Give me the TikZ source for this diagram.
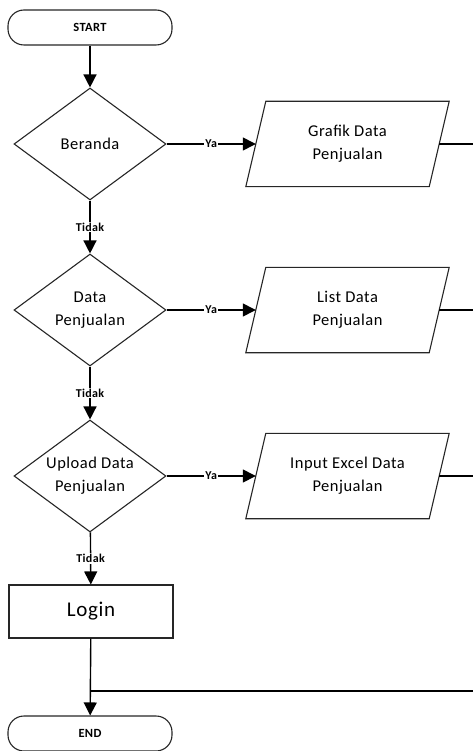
\documentclass[tikz,border=0pt]{standalone}
\usepackage{fontspec}
\setmainfont{Carlito}[LetterSpace=3]
\usetikzlibrary{shapes.geometric,arrows.meta}
\begin{document}
\begin{tikzpicture}[x=1pt,y=1pt,
  shapeline/.style={draw=black!85, line width=1.1pt, fill=white},
  term/.style={shapeline, rectangle, rounded corners=16pt, minimum width=164pt, minimum height=35pt, inner sep=0pt, font=\bfseries\fontsize{12.5}{14}\selectfont},
  decision/.style={shapeline, diamond, minimum width=152pt, minimum height=112pt, inner sep=0pt},
  iobody/.style={rectangle, minimum width=183pt, minimum height=85pt, inner sep=0pt, align=center, font=\fontsize{16.5}{23}\selectfont},
  proc/.style={shapeline, rectangle, minimum width=164pt, minimum height=53pt, inner sep=0pt, font=\fontsize{21}{24}\selectfont},
  txt/.style={align=center, font=\fontsize{16.5}{23}\selectfont},
  flow/.style={draw=black, line width=1.4pt, -{Triangle[width=13pt,length=13pt]}},
  plain/.style={draw=black, line width=1.4pt},
  lbl/.style={fill=white, inner sep=1pt, font=\bfseries\fontsize{12}{13}\selectfont}
]
\useasboundingbox (0,0) rectangle (473,-751);

\node[term] (start) at (90,-27.5) {START};
\node[decision, label={[txt]center:Beranda}] (d1) at (90,-144) {};
\node[decision, label={[txt]center:Data\\Penjualan}] (d2) at (90,-310) {};
\node[decision, label={[txt]center:Upload Data\\Penjualan}] (d3) at (90,-476) {};
\node[proc] (login) at (91,-611.5) {Login};
\node[term] (end) at (90,-733.5) {END};

\node[iobody] (p1) at (347.5,-144) {Grafik Data\\Penjualan};
\node[iobody] (p2) at (347.5,-310) {List Data\\Penjualan};
\node[iobody] (p3) at (347.5,-476) {Input Excel Data\\Penjualan};
\foreach \p in {p1,p2,p3}{
  \draw[shapeline, fill=none] ([xshift=10pt]\p.north west) -- ([xshift=10pt]\p.north east)
     -- ([xshift=-10pt]\p.south east) -- ([xshift=-10pt]\p.south west) -- cycle;
}

\coordinate (r1) at (473,-144);
\coordinate (r2) at (473,-310);
\coordinate (r3) at (473,-476);
\coordinate (r4) at (473,-691);
\coordinate (j) at (90,-691);

\draw[flow] (start) -- (d1);
\draw[flow] (d1) -- node[lbl]{Tidak} (d2);
\draw[flow] (d2) -- node[lbl]{Tidak} (d3);
\draw[flow] (d3) -- node[lbl]{Tidak} (login);
\draw[flow] (login) -- (end);

\draw[flow] (d1.east) -- node[lbl]{Ya} (p1.west);
\draw[flow] (d2.east) -- node[lbl]{Ya} (p2.west);
\draw[flow] (d3.east) -- node[lbl]{Ya} (p3.west);

\draw[plain] (p1.east) -- (r1);
\draw[plain] (p2.east) -- (r2);
\draw[plain] (p3.east) -- (r3);
\draw[plain] (r4) -- (j);
\end{tikzpicture}
\end{document}
